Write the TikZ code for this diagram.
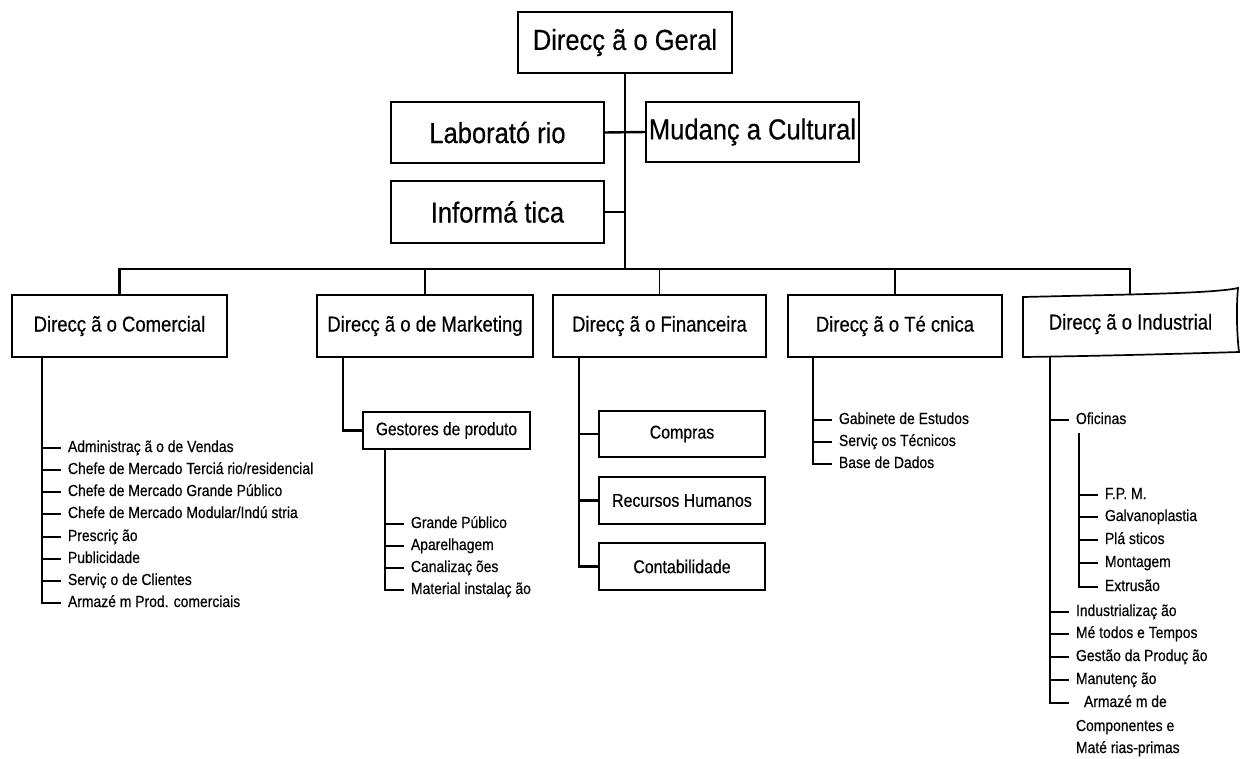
\documentclass[tikz,border=0pt]{standalone}
\usepackage{fontspec}
\setmainfont{Liberation Sans}
\newfontfamily\fT{Liberation Sans}[FakeStretch=0.88,FakeBold=0.4]
\newfontfamily\fS{Liberation Sans}[FakeStretch=0.86,FakeBold=0.4]
\newfontfamily\fB{Liberation Sans}[FakeStretch=0.86,FakeBold=0.4]
\newfontfamily\fI{Liberation Sans}[FakeStretch=0.87,FakeBold=0.4]
\tikzset{
  box/.style={draw, line width=1.7pt, inner sep=0pt, outer sep=0pt, fill=white},
  topbox/.style={box, minimum width=213pt, minimum height=61pt, font={\fT\fontsize{29}{33}\selectfont}},
  secbox/.style={box, minimum width=214pt, minimum height=62pt, font={\fS\fontsize{21.5}{24}\selectfont}},
  subbox/.style={box, minimum width=166pt, minimum height=46pt, font={\fB\fontsize{18.5}{21}\selectfont}},
  conn/.style={line width=1.8pt},
  tick/.style={line width=2.2pt},
  item/.style={anchor=west, inner sep=0pt, outer xsep=7pt, text height=11pt, text depth=3pt, font={\fI\fontsize{16}{18}\selectfont}},
}
\begin{document}
\begin{tikzpicture}[x=1pt,y=-1pt]
\fill[white] (0,0) rectangle (1242,758);
\useasboundingbox (0,0) rectangle (1242,758);

% top level
\node[topbox, minimum width=214pt] (geral) at (625,42.5) {Direcç ã o Geral};
\node[topbox] (lab) at (497.5,132.5) {Laborató rio};
\node[topbox, minimum height=60pt] (mud) at (752.5,132) {Mudanç a Cultural};
\node[topbox, minimum height=62pt] (inf) at (497.5,212) {Informá tica};
\coordinate (bus) at (625,269);

% second level
\node[secbox, minimum width=215pt] (com) at (119.5,326) {Direcç ã o Comercial};
\node[secbox, minimum width=216pt] (mkt) at (425,326) {Direcç ã o de Marketing};
\node[secbox, minimum width=213pt] (fin) at (659.5,326) {Direcç ã o Financeira};
\node[secbox] (tec) at (895,326) {Direcç ã o Té cnica};
\node[inner sep=0pt, minimum width=215pt, minimum height=62pt, font={\fS\fontsize{21.5}{24}\selectfont}] (ind) at (1130.5,324) {Direcç ã o Industrial};
\draw[line width=1.7pt] (1023,357) -- (1023,297) -- (1130,294.5)
  .. controls (1185,293) and (1222,291.5) .. (1238,288)
  .. controls (1236,310) and (1237,335) .. (1239,352)
  .. controls (1190,353.5) and (1100,356) .. (1023,357) -- cycle;

% top connectors
\draw[conn] (geral.south) -- (bus);
\draw[conn, line width=2.4pt] (lab.east) -- (mud.west);
\draw[conn, line width=2.4pt] (inf.east) -- (inf.east -| geral.south);
\draw[conn, line width=2.2pt] (com.north) -- (com.north |- bus) -- (bus -| 1130,0) -- (1130,294.5);
\draw[conn] (mkt.north) -- (mkt.north |- bus);
\draw[conn] (fin.north) -- (fin.north |- bus);
\draw[conn] (tec.north) -- (tec.north |- bus);

% Comercial items
\node[item] (c1) at (61,448) {Administraç ã o de Vendas};
\node[item] (c2) at (61,470) {Chefe de Mercado Terciá rio/residencial};
\node[item] (c3) at (61,492) {Chefe de Mercado Grande Público};
\node[item] (c4) at (61,514) {Chefe de Mercado Modular/Indú stria};
\node[item] (c5) at (61,537) {Prescriç ão};
\node[item] (c6) at (61,559) {Publicidade};
\node[item] (c7) at (61,581) {Serviç o de Clientes};
\node[item] (c8) at (61,603) {Armazé m Prod. comerciais};
\coordinate (cv) at (42,357);
\draw[tick] (cv) |- (c8.west);
\foreach \i in {1,...,7} \draw[tick] (cv |- c\i.west) -- (c\i.west);

% Marketing
\node[box, minimum width=167pt, minimum height=37pt, font={\fB\fontsize{18}{20}\selectfont}] (gest) at (446.5,430.5) {Gestores de produto};
\coordinate (mv) at (343,357);
\draw[tick] (mv) |- (gest.west);
\node[item] (m1) at (404,524) {Grande Público};
\node[item] (m2) at (404,546) {Aparelhagem};
\node[item] (m3) at (404,568) {Canalizaç ões};
\node[item] (m4) at (404,590) {Material instalaç ão};
\coordinate (gv) at (385,449);
\draw[tick] (gv) |- (m4.west);
\foreach \i in {1,2,3} \draw[tick] (gv |- m\i.west) -- (m\i.west);

% Financeira
\node[subbox] (f1) at (682,434) {Compras};
\node[subbox, minimum height=47pt] (f2) at (682,500.5) {Recursos Humanos};
\node[subbox, minimum height=47pt] (f3) at (682,566.5) {Contabilidade};
\coordinate (fv) at (579,357);
\draw[tick] (fv) |- (f3.west);
\draw[tick] (fv |- f1.west) -- (f1.west);
\draw[tick] (fv |- f2.west) -- (f2.west);

% Tecnica
\node[item] (t1) at (832,420) {Gabinete de Estudos};
\node[item] (t2) at (832,442) {Serviç os Técnicos};
\node[item] (t3) at (832,464) {Base de Dados};
\coordinate (tv) at (813,357);
\draw[tick] (tv) |- (t3.west);
\draw[tick] (tv |- t1.west) -- (t1.west);
\draw[tick] (tv |- t2.west) -- (t2.west);

% Industrial
\node[item] (i0) at (1069,420) {Oficinas};
\node[item] (o1) at (1098,495) {F.P. M.};
\node[item] (o2) at (1098,517) {Galvanoplastia};
\node[item] (o3) at (1098,540) {Plá sticos};
\node[item] (o4) at (1098,563) {Montagem};
\node[item] (o5) at (1098,587) {Extrusão};
\coordinate (ov) at (1079,433);
\draw[line width=1.3pt] (ov) -- (1079,480);
\draw[tick] (1079,480) |- (o5.west);
\foreach \i in {1,...,4} \draw[tick] (ov |- o\i.west) -- (o\i.west);
\node[item] (i1) at (1069,612) {Industrializaç ão};
\node[item] (i2) at (1069,634) {Mé todos e Tempos};
\node[item] (i3) at (1069,657) {Gestão da Produç ão};
\node[item] (i4) at (1069,680) {Manutenç ão};
\node[item] (i5) at (1069,703) {\hspace{8pt}Armazé m de};
\node[item] (i6) at (1069,727) {Componentes e};
\node[item] (i7) at (1069,749) {Maté rias-primas};
\coordinate (iv) at (1050,357);
\draw[tick] (iv) |- (i5.west);
\foreach \i in {0,...,4} \draw[tick] (iv |- i\i.west) -- (i\i.west);
\end{tikzpicture}
\end{document}
